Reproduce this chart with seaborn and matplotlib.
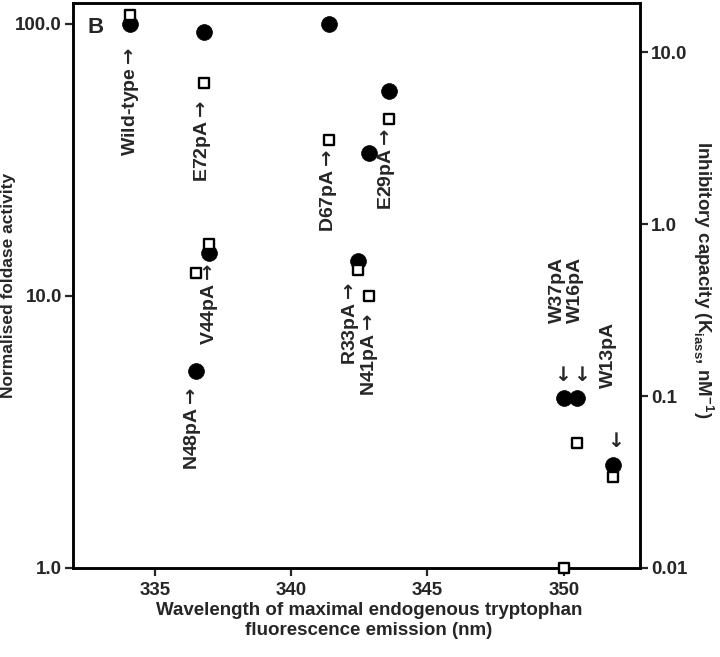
import matplotlib
matplotlib.use("Agg")
import matplotlib.pyplot as plt
from matplotlib.ticker import NullLocator
import seaborn as sns
import pandas as pd

# values
mutants = ["Wild-type", "E72pA", "V44pA", "N48pA", "D67pA", "R33pA",
           "N41pA", "E29pA", "W37pA", "W16pA", "W13pA"]
wavelength = [334.1, 336.8, 337.0, 336.5, 341.4, 342.45,
              342.85, 343.6, 350.0, 350.5, 351.8]
foldase = [100, 93.5, 14.4, 5.3, 100, 13.4, 33.6, 56.8, 4.2, 4.2, 2.4]
inhibitory = [16.4, 6.6, 0.77, 0.52, 3.07, 0.54, 0.38, 4.1, 0.01, 0.053, 0.034]

x_ticks = [335, 340, 345, 350]
left_ticks = [1, 10, 100]
left_tick_labels = ["1.0", "10.0", "100.0"]
right_ticks = [0.01, 0.1, 1, 10]
right_tick_labels = ["0.01", "0.1", "1.0", "10.0"]

df = pd.DataFrame({"mutant": mutants, "wavelength": wavelength,
                   "foldase": foldase, "inhibitory": inhibitory})

# label placement: which mark the label points at, offset in points
up_labels = {
    "Wild-type": ("c", 0.0, -16.5),
    "E72pA": ("s", -0.7, -12.2),
    "V44pA": ("c", 0.0, -7.5),
    "N48pA": ("c", -2.2, -11.5),
    "D67pA": ("s", -0.7, -5.8),
    "R33pA": ("c", -5.0, -14.4),
    "N41pA": ("s", 0.8, -12.2),
    "E29pA": ("s", -2.2, -6.5),
}
down_labels = {
    "W37pA": (-4.3, 54, -2.9),
    "W16pA": (-1.4, 54, 0.7),
    "W13pA": (-2.9, 55, 0.0),
}

sns.set_style("ticks")
plt.rcParams["font.family"] = ["Liberation Sans", "DejaVu Sans"]
plt.rcParams["font.weight"] = "bold"
plt.rcParams["axes.labelweight"] = "bold"

fig = plt.figure(figsize=(7.2, 6.57), dpi=100)
ax = fig.add_axes([0.1014, 0.1355, 0.7876, 0.86])
ax2 = ax.twinx()

sns.scatterplot(data=df, x="wavelength", y="foldase", ax=ax, marker="o",
                s=130, color="black", edgecolor="black", linewidth=0.5,
                zorder=3, legend=False)
sns.scatterplot(data=df, x="wavelength", y="inhibitory", ax=ax2, marker="s",
                s=62, color="white", edgecolor="black", linewidth=1.7,
                zorder=4, clip_on=False, legend=False)

ax.set_yscale("log")
ax2.set_yscale("log")
ax.set_xlim(332.0, 352.8)
ax.set_ylim(1, 119.4)
ax2.set_ylim(0.01, 19.3)

ax.set_xticks(x_ticks)
ax.set_xticklabels([str(t) for t in x_ticks])
ax.set_yticks(left_ticks)
ax.set_yticklabels(left_tick_labels)
ax2.set_yticks(right_ticks)
ax2.set_yticklabels(right_tick_labels)
for a in (ax, ax2):
    a.yaxis.set_minor_locator(NullLocator())
    a.tick_params(direction="out", length=6, width=1.6, labelsize=13.5, pad=2)
    for sp in a.spines.values():
        sp.set_visible(True)
        sp.set_linewidth(1.8)
        sp.set_color("black")
ax.tick_params(axis="x", pad=4)

ax.set_xlabel("Wavelength of maximal endogenous tryptophan\nfluorescence emission (nm)",
              fontsize=13.5, linespacing=1.2)
ax.xaxis.label.set_va("center")
ax.xaxis.set_label_coords(0.522, -0.093)
ax.set_ylabel("Normalised foldase activity", fontsize=12.5)
ax.yaxis.label.set_va("center")
ax.yaxis.set_label_coords(-0.113, 0.5)
ax2.set_ylabel("Inhibitory capacity (K$_\\mathregular{iass}$, nM$^\\mathregular{-1}$)",
               fontsize=13.5, rotation=270)
ax2.yaxis.label.set_va("center")
ax2.yaxis.set_label_coords(1.111, 0.51)

ax.text(0.026, 0.975, "B", transform=ax.transAxes, fontsize=16,
        fontweight="bold", ha="left", va="top")

for _, row in df.iterrows():
    name = row["mutant"]
    if name in up_labels:
        target, dx, dy = up_labels[name]
        a = ax if target == "c" else ax2
        yv = row["foldase"] if target == "c" else row["inhibitory"]
        a.annotate(name + "$\\rightarrow$", xy=(row["wavelength"], yv),
                   xytext=(dx, dy), textcoords="offset points", rotation=90,
                   ha="center", va="top", fontsize=14, fontweight="bold")
    elif name in down_labels:
        dx, dy, adx = down_labels[name]
        ax.annotate(name, xy=(row["wavelength"], row["foldase"]), xytext=(dx, dy),
                    textcoords="offset points", rotation=90, ha="center",
                    va="bottom", fontsize=14, fontweight="bold")
        ax.annotate("$\\downarrow$", xy=(row["wavelength"], row["foldase"]),
                    xytext=(adx, 10.0), textcoords="offset points",
                    ha="center", va="bottom", fontsize=14.5)

fig.savefig("out.png", dpi=100)
plt.close(fig)
